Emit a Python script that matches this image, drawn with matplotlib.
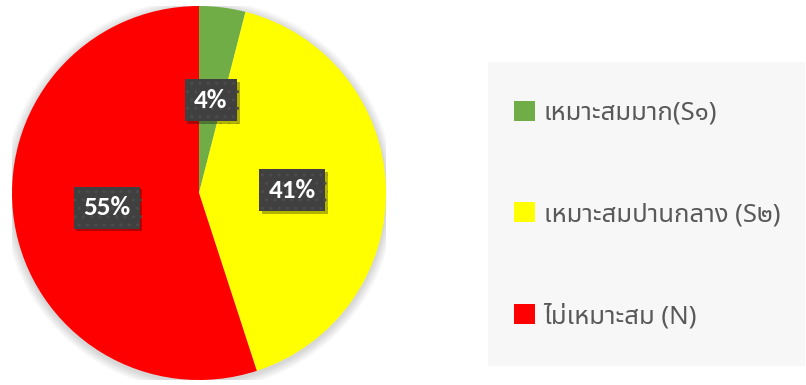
import matplotlib
matplotlib.use("Agg")
import matplotlib.pyplot as plt
import matplotlib.patheffects as pe
from matplotlib.patches import Rectangle, Circle

# land suitability classes
labels = ["เหมาะสมมาก(S๑)", "เหมาะสมปานกลาง (S๒)", "ไม่เหมาะสม (N)"]
shares = [4, 41, 55]
colors = ["#70ad47", "#ffff00", "#ff0000"]

thai_font = ["Noto Sans", "Noto Sans Thai", "DejaVu Sans"]
label_font = ["Carlito", "Open Sans", "DejaVu Sans"]

W, H = 806, 385
fig = plt.figure(figsize=(W / 100, H / 100), dpi=100)

# pie centred at (199, 193) px with radius 187 px
cx, cy, r = 199, 193, 187
ax = fig.add_axes([(cx - r) / W, (H - cy - r) / H, 2 * r / W, 2 * r / H])

# soft halo behind the pie
for k in range(8):
    ax.add_patch(Circle((0.0, -0.01), 1.0 + 0.006 * (k + 1), facecolor="black",
                        alpha=0.018, edgecolor="none", zorder=0))

wedges, _, pct = ax.pie(shares, colors=colors, startangle=90, counterclock=False,
                        radius=1.0, autopct="%1.0f%%", pctdistance=0.5,
                        wedgeprops=dict(linewidth=0, zorder=1))
for t in pct:
    t.set_color("white")
    t.set_fontsize(19.5)
    t.set_fontweight("bold")
    t.set_family(label_font)
    t.set_bbox(dict(boxstyle="square,pad=0.35", facecolor="#404040",
                    edgecolor="#4c4c4c", linewidth=0, hatch=".."))
    t.get_bbox_patch().set_path_effects(
        [pe.SimplePatchShadow(offset=(2, -2), shadow_rgbFace="black", alpha=0.3), pe.Normal()])
    t.set_zorder(5)

ax.set_xlim(-1, 1)
ax.set_ylim(-1, 1)
ax.set_aspect("equal")
ax.axis("off")

# legend panel
fig.patches.append(Rectangle((488 / W, 1 - 366 / H), 317 / W, 304 / H,
                             transform=fig.transFigure, facecolor="#f7f7f7",
                             edgecolor="none", zorder=0))
leg = fig.legend(wedges, labels, loc="center left", bbox_to_anchor=(514 / W, 1 - 215 / H),
                 frameon=False, borderpad=0, borderaxespad=0,
                 handlelength=0.8, handleheight=0.8,
                 handletextpad=0.35, labelspacing=2.97,
                 prop={"family": thai_font, "size": 18.5})
for t in leg.get_texts():
    t.set_color("#595959")

fig.savefig("out.png", dpi=100)
